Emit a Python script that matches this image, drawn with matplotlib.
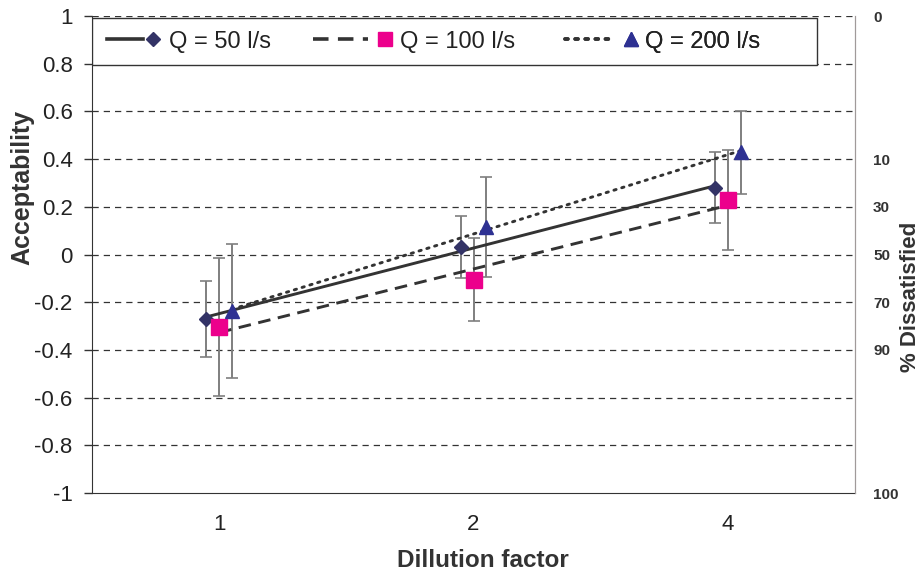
import matplotlib
matplotlib.use("Agg")
import matplotlib.pyplot as plt
import numpy as np
from matplotlib.legend_handler import HandlerBase
from matplotlib.lines import Line2D
from matplotlib.patches import Rectangle

plt.rcParams['font.family'] = ['Liberation Sans', 'DejaVu Sans']

categories = ['1', '2', '4']
series_labels = ['Q = 50 l/s', 'Q = 100 l/s', 'Q = 200 l/s']
q50_mean = [-0.27, 0.03, 0.28]
q50_err = [0.16, 0.13, 0.15]
q100_mean = [-0.305, -0.105, 0.228]
q100_err = [0.29, 0.175, 0.21]
q200_mean = [-0.237, 0.117, 0.428]
q200_err = [0.28, 0.21, 0.175]

left_tick_values = [-1, -0.8, -0.6, -0.4, -0.2, 0, 0.2, 0.4, 0.6, 0.8, 1]
left_tick_labels = ['-1', '-0.8', '-0.6', '-0.4', '-0.2', '0', '0.2', '0.4', '0.6', '0.8', '1']
right_tick_values = [1, 0.4, 0.2, 0, -0.2, -0.4, -1]
right_tick_labels = ['0', '10', '30', '50', '70', '90', '100']

FIG_W, FIG_H = 924, 574
fig = plt.figure(figsize=(FIG_W / 100, FIG_H / 100), dpi=100)
AX_L, AX_R, AX_T, AX_B = 92, 855, 16, 493
ax = fig.add_axes([AX_L / FIG_W, 1 - AX_B / FIG_H, (AX_R - AX_L) / FIG_W, (AX_B - AX_T) / FIG_H])

x = np.arange(len(categories)) + 0.5
offsets = [-0.05, 0.0, 0.05]
means = [q50_mean, q100_mean, q200_mean]
errs = [q50_err, q100_err, q200_err]
markers = ['D', 's', '^']
msizes = [7.5, 11, 10.5]
mcolors = ['#333366', '#ec008c', '#2e3192']
line_styles = [dict(linestyle='-'),
               dict(linestyle=(0, (4.3, 2.6))),
               dict(linestyle=(0, (0.8, 2.0)), dash_capstyle='round')]

# grid
for v in left_tick_values[1:]:
    ax.axhline(v, color='#333333', lw=0.9, linestyle=(0, (5, 4)), zorder=0)

for i in range(3):
    xs = x + offsets[i]
    ax.errorbar(xs, means[i], yerr=errs[i], fmt='none', ecolor='#7f7f7f',
                elinewidth=1.4, capsize=4, capthick=1.2, zorder=2)
    coef = np.polyfit(np.arange(3), means[i], 1)
    fit = np.polyval(coef, np.arange(3))
    ax.plot([xs[0], xs[-1]], [fit[0], fit[-1]], color='#333333', lw=2.1,
            zorder=3, **line_styles[i])
    ax.plot(xs, means[i], linestyle='none', marker=markers[i], ms=msizes[i],
            color=mcolors[i], mec=mcolors[i], zorder=4)

ax.set_xlim(0, 3)
ax.set_ylim(-1, 1)
ax.set_xticks(x)
ax.set_xticklabels(categories, fontsize=16, color='#222222')
ax.tick_params(axis='x', length=0, pad=15)
ax.set_yticks(left_tick_values)
ax.set_yticklabels(left_tick_labels, fontsize=16, color='#222222')
ax.tick_params(axis='y', length=6, width=1, color='#333333', pad=8)
ax.spines['top'].set_visible(False)
for s in ['left', 'bottom']:
    ax.spines[s].set_color('#333333')
ax.spines['right'].set_color('#a09a9a')

fig.text(0.024, 0.674, 'Acceptability', rotation=90, ha='center', va='center',
         fontsize=18, fontweight='bold', color='#333333')
fig.text(0.523, 0.024, 'Dillution factor', ha='center', va='center',
         fontsize=17.5, fontweight='bold', color='#333333')
fig.text(0.985, 0.483, '% Dissatisfied', rotation=90, ha='center', va='center',
         fontsize=16, fontweight='bold', color='#333333')

ax2 = ax.twinx()
ax2.set_ylim(-1, 1)
ax2.set_yticks(right_tick_values)
ax2.set_yticklabels(right_tick_labels, fontsize=11, fontweight='bold', color='#333333')
ax2.tick_params(axis='y', length=0, pad=13)
for s in ['top', 'left', 'bottom']:
    ax2.spines[s].set_visible(False)
ax2.spines['right'].set_color('#a09a9a')


class LineThenMarker(HandlerBase):
    def __init__(self, line_len, marker_c, line_kw, marker_kw):
        super().__init__()
        self.line_len = line_len
        self.marker_c = marker_c
        self.line_kw = line_kw
        self.marker_kw = marker_kw

    def create_artists(self, legend, orig_handle, xdescent, ydescent, width,
                       height, fontsize, trans):
        y = height / 2 - ydescent
        x0 = -xdescent
        ln = Line2D([x0, x0 + self.line_len], [y, y], **self.line_kw)
        mk = Line2D([x0 + self.marker_c], [y], linestyle='none', **self.marker_kw)
        ln.set_transform(trans)
        mk.set_transform(trans)
        return [ln, mk]


# legend box
LEG_L, LEG_R, LEG_T, LEG_B = 92, 817, 18, 65
ax_w, ax_h = AX_R - AX_L, AX_B - AX_T
rect = Rectangle(((LEG_L - AX_L) / ax_w, 1 - (LEG_B - AX_T) / ax_h),
                 (LEG_R - LEG_L) / ax_w, (LEG_B - LEG_T) / ax_h,
                 transform=ax.transAxes, facecolor='white', edgecolor='#333333',
                 lw=1.0, zorder=9)
ax.add_patch(rect)

LEG_FS = 17
fs_px = LEG_FS * 100 / 72
# (start px, total handle width px, line length px, marker centre px)
leg_layout = [(107, 55, 36, 46), (313, 80, 55, 72), (565, 73, 45, 66)]
y_mid = 1 - ((LEG_T + LEG_B) / 2 - AX_T) / ax_h
for i in range(3):
    start, w, ll, mc = leg_layout[i]
    proxy = Line2D([], [])
    h = LineThenMarker(ll * 0.72, mc * 0.72,
                       dict(color='#333333', lw=2.6, **line_styles[i]),
                       dict(marker=markers[i], ms=msizes[i] * 0.95, color=mcolors[i]))
    leg = ax.legend([proxy], [series_labels[i]], loc='center left',
                    bbox_to_anchor=((start - AX_L) / ax_w, y_mid), borderaxespad=0,
                    borderpad=0, handler_map={proxy: h}, handlelength=w / fs_px,
                    handletextpad=0.28, fontsize=LEG_FS, frameon=False)
    leg.set_zorder(10)
    for t in leg.get_texts():
        t.set_color('#222222')
    ax.add_artist(leg)

fig.savefig('out.png', dpi=100)
